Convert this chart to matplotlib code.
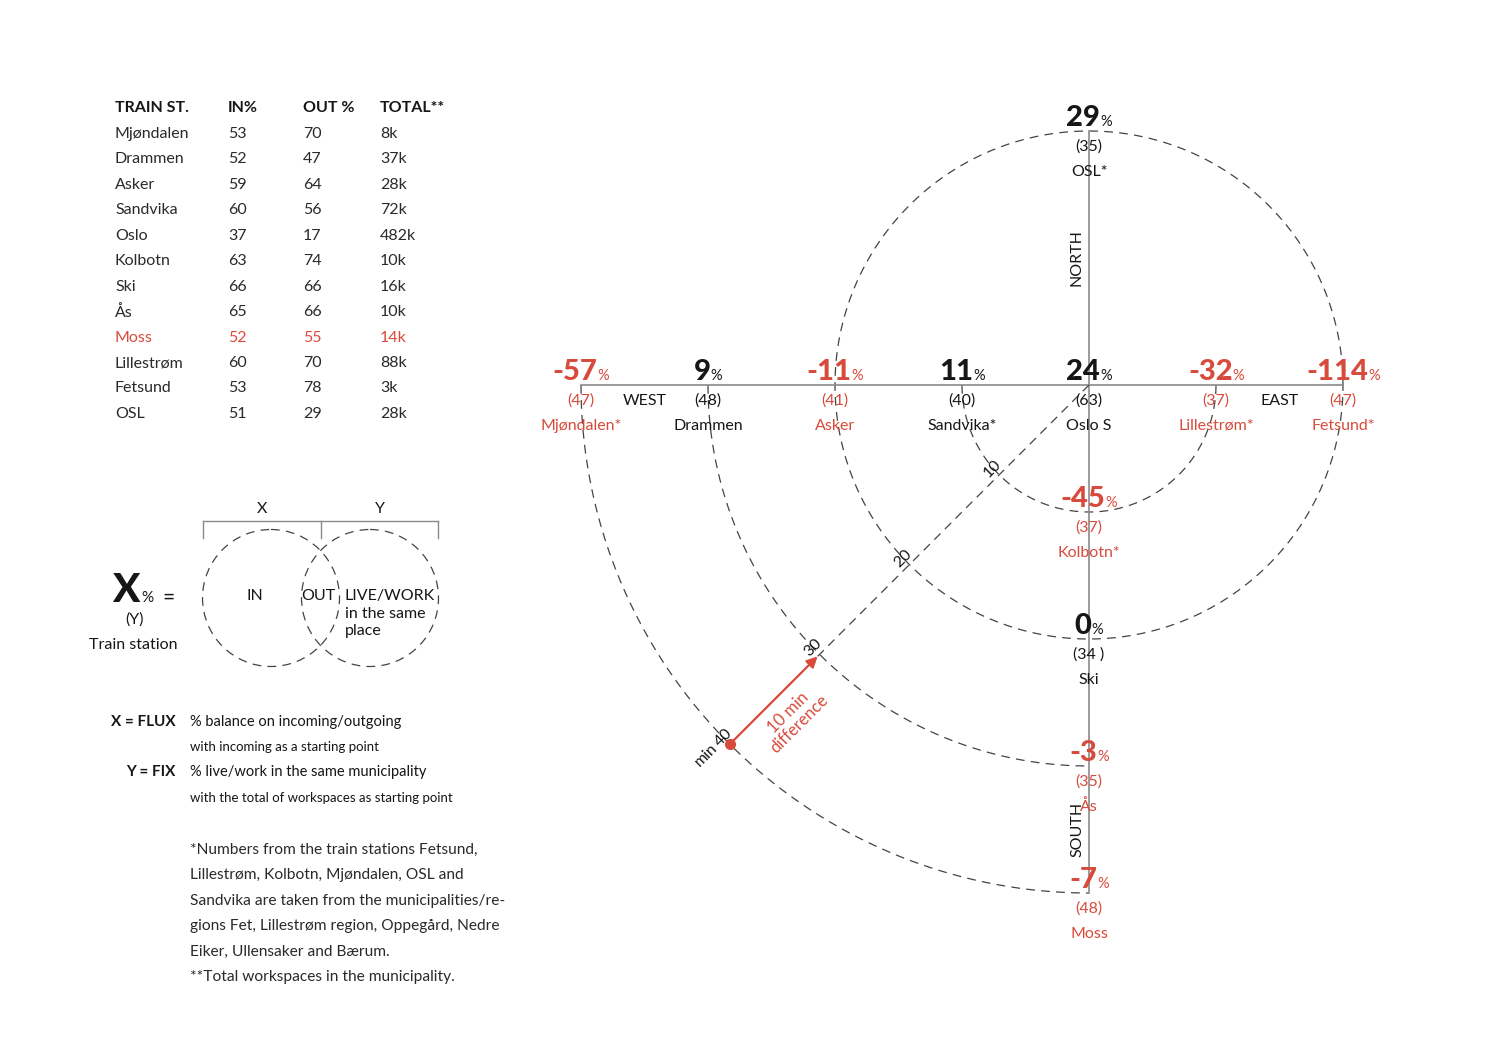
import numpy as np
import matplotlib.pyplot as plt
from matplotlib.offsetbox import TextArea, HPacker, AnnotationBbox
from matplotlib.patches import Circle

plt.rcParams["font.family"] = ["Lato", "DejaVu Sans"]

RED = "#D84B3C"
INK = "#161616"
GREY = "#8a8a8a"
DASH = (0, (7, 5))

# ---- table data (left) ----
table_header = ["TRAIN ST.", "IN%", "OUT %", "TOTAL**"]
table_station = ["Mjøndalen", "Drammen", "Asker", "Sandvika", "Oslo", "Kolbotn",
                 "Ski", "Ås", "Moss", "Lillestrøm", "Fetsund", "OSL"]
table_in = [53, 52, 59, 60, 37, 63, 66, 65, 52, 60, 53, 51]
table_out = [70, 47, 64, 56, 17, 74, 66, 66, 55, 70, 78, 29]
table_total = ["8k", "37k", "28k", "72k", "482k", "10k", "16k", "10k", "14k", "88k", "3k", "28k"]
table_highlight = ["Moss"]

# ---- radial diagram data (minutes from Oslo S) ----
st_name = ["Mjøndalen*", "Drammen", "Asker", "Sandvika*", "Oslo S", "Lillestrøm*",
           "Fetsund*", "OSL*", "Kolbotn*", "Ski", "Ås", "Moss"]
st_dir = ["W", "W", "W", "W", "C", "E", "E", "N", "S", "S", "S", "S"]
st_min = [40, 30, 20, 10, 0, 10, 20, 20, 10, 20, 30, 40]
st_flux = [-57, 9, -11, 11, 24, -32, -114, 29, -45, 0, -3, -7]
st_fix = ["47", "48", "41", "40", "63", "37", "47", "35", "37", "34 ", "35", "48"]

ring_min = [10, 20, 30, 40]
ring_span = [(180, 360), (0, 360), (180, 270), (180, 270)]
ring_label = ["10", "20", "30", "40"]

compass = ["WEST", "EAST", "NORTH", "SOUTH"]
compass_pos = [(-35, 0), (15, 0), (0, 10), (0, -35)]

# ---- figure ----
W, H = 1500, 1057
CX, CY, S = 1089, 385, 12.7  # Oslo S in pixels, pixels per minute
PT = 0.72  # points per pixel at dpi 100

fig = plt.figure(figsize=(W / 100, H / 100), dpi=100)
axL = fig.add_axes([0, 0, 1, 1])
axL.set_xlim(0, W)
axL.set_ylim(H, 0)
axL.axis("off")

axD = fig.add_axes([0, 0, 1, 1])
axD.set_xlim(-CX / S, (W - CX) / S)
axD.set_ylim(-(H - CY) / S, CY / S)
axD.axis("off")
axD.patch.set_alpha(0)

# table
col_x = [115, 228, 303, 380]
for cx, h in zip(col_x, table_header):
    axL.text(cx, 108, h, ha="left", va="center", fontsize=11.5, weight="bold", color=INK)
for i, name in enumerate(table_station):
    y = 134 + i * 25.45
    c = RED if name in table_highlight else "#2a2a2a"
    row = [name, str(table_in[i]), str(table_out[i]), table_total[i]]
    for cx, v in zip(col_x, row):
        axL.text(cx, y, v, ha="left", va="center", fontsize=11.5, color=c)

# venn legend
for vx in (271, 370):
    axL.add_patch(Circle((vx, 598), 68.5, fill=False, ls=DASH, lw=0.9, ec="#444444"))
axL.plot([203, 438], [521, 521], color=GREY, lw=1)
for bx in (203, 321, 438):
    axL.plot([bx, bx], [521, 538], color=GREY, lw=1)
axL.text(262, 513, "X", ha="center", va="baseline", fontsize=11.5, color=INK)
axL.text(380, 513, "Y", ha="center", va="baseline", fontsize=11.5, color=INK)
axL.text(255, 600, "IN", ha="center", va="baseline", fontsize=11.5, color=INK)
axL.text(318, 600, "OUT", ha="center", va="baseline", fontsize=11.5, color=INK)
axL.text(345, 600, "LIVE/WORK", ha="left", va="baseline", fontsize=11.5, color=INK)
axL.text(345, 618, "in the same", ha="left", va="baseline", fontsize=11.5, color=INK)
axL.text(345, 635, "place", ha="left", va="baseline", fontsize=11.5, color=INK)

axL.text(126, 602, "X", ha="center", va="baseline", fontsize=29, weight="black", color=INK)
axL.text(141, 602, "%", ha="left", va="baseline", fontsize=11, color=INK)
axL.text(168, 598, "=", ha="center", va="center", fontsize=15, color=INK)
axL.text(135, 620, "(Y)", ha="center", va="center", fontsize=11.5, color=INK)
axL.text(133, 645, "Train station", ha="center", va="center", fontsize=11.5, color=INK)

# definitions
axL.text(176, 722, "X = FLUX", ha="right", va="center", fontsize=11, weight="bold", color=INK)
axL.text(176, 772, "Y = FIX", ha="right", va="center", fontsize=11, weight="bold", color=INK)
defs = ["% balance on incoming/outgoing", "with incoming as a starting point",
        "% live/work in the same municipality", "with the total of workspaces as starting point"]
for y, t, fs in zip([722, 747, 772, 798], defs, [10.5, 9.5, 10.5, 9.5]):
    axL.text(190, y, t, ha="left", va="center", fontsize=fs, color=INK)

notes = ["*Numbers from the train stations Fetsund,",
         "Lillestrøm, Kolbotn, Mjøndalen, OSL and",
         "Sandvika are taken from the municipalities/re-",
         "gions Fet, Lillestrøm region, Oppegård, Nedre",
         "Eiker, Ullensaker and Bærum.",
         "**Total workspaces in the municipality."]
for i, t in enumerate(notes):
    axL.text(190, 850 + i * 25.4, t, ha="left", va="center", fontsize=11.2, color="#2a2a2a")

# ---- radial diagram ----
vec = {"W": (-1, 0), "E": (1, 0), "N": (0, 1), "S": (0, -1), "C": (0, 0)}
xs = np.array([vec[d][0] * m for d, m in zip(st_dir, st_min)], float)
ys = np.array([vec[d][1] * m for d, m in zip(st_dir, st_min)], float)

for r, (a0, a1) in zip(ring_min, ring_span):
    t = np.radians(np.linspace(a0, a1, 500))
    axD.plot(r * np.cos(t), r * np.sin(t), ls=DASH, color="#444444", lw=0.9)

horiz = [d in ("W", "E", "C") for d in st_dir]
vert = [d in ("N", "S", "C") for d in st_dir]
axD.plot([xs[horiz].min(), xs[horiz].max()], [0, 0], color=GREY, lw=1.2)
axD.plot([0, 0], [ys[vert].min(), ys[vert].max()], color=GREY, lw=1.2)

# diagonal travel-time scale
ang = np.radians(225)
ux, uy = np.cos(ang), np.sin(ang)
rmax = max(ring_min)
axD.plot([0, rmax * ux], [0, rmax * uy], ls=DASH, color="#444444", lw=0.9)
perp = 9 * PT
for r, lab in zip(ring_min, ring_label):
    axD.annotate(lab, (r * ux, r * uy), xytext=(-perp * 0.707, perp * 0.707),
                 textcoords="offset points", ha="center", va="center",
                 rotation=45, rotation_mode="anchor", fontsize=11.5, color=INK)
along = 11 * PT
axD.annotate("min", (rmax * ux, rmax * uy),
             xytext=(-perp * 0.707 - along * 0.707, perp * 0.707 - along * 0.707),
             textcoords="offset points", ha="right", va="center",
             rotation=45, rotation_mode="anchor", fontsize=11.5, color=INK)

r0, r1 = ring_min[-1], ring_min[-2]
axD.annotate("", xy=(r1 * ux, r1 * uy), xytext=(r0 * ux, r0 * uy),
             arrowprops=dict(arrowstyle="-|>", color=RED, lw=1.6, shrinkA=0, shrinkB=2,
                             mutation_scale=16))
axD.plot([r0 * ux], [r0 * uy], "o", color=RED, ms=7)
rm = (r0 + r1) / 2
axD.annotate(f"{r0 - r1} min\ndifference", (rm * ux, rm * uy),
             xytext=(27 * PT * 0.707, -27 * PT * 0.707), textcoords="offset points",
             ha="center", va="center", rotation=45, rotation_mode="anchor",
             fontsize=12, color=RED, linespacing=1.0)

# station labels
for name, x, y, fx, fy in zip(st_name, xs, ys, st_flux, st_fix):
    col = RED if fx < 0 else INK
    big = TextArea(f"{fx}", textprops=dict(fontsize=21, weight=900, color=col))
    pct = TextArea("%", textprops=dict(fontsize=10.5, color=col))
    box = HPacker(children=[big, pct], align="baseline", pad=0, sep=0)
    ab = AnnotationBbox(box, (x, y), xybox=(0, 0), boxcoords="offset points",
                        box_alignment=(0.5, 0), frameon=False, pad=0)
    axD.add_artist(ab)
    axD.annotate(f"({fy})", (x, y), xytext=(0, -16 * PT), textcoords="offset points",
                 ha="center", va="center", fontsize=11.5, color=col)
    axD.annotate(name, (x, y), xytext=(0, -41 * PT), textcoords="offset points",
                 ha="center", va="center", fontsize=11.5, color=col)

for lab, (px, py) in zip(compass, compass_pos):
    if py == 0:
        axD.annotate(lab, (px, py), xytext=(0, -16 * PT), textcoords="offset points",
                     ha="center", va="center", fontsize=11.5, color=INK)
    else:
        axD.annotate(lab, (px, py), xytext=(-12 * PT, 0), textcoords="offset points",
                     ha="center", va="center", rotation=90, fontsize=11.5, color=INK)

fig.savefig("out.png", dpi=100, facecolor="white")
